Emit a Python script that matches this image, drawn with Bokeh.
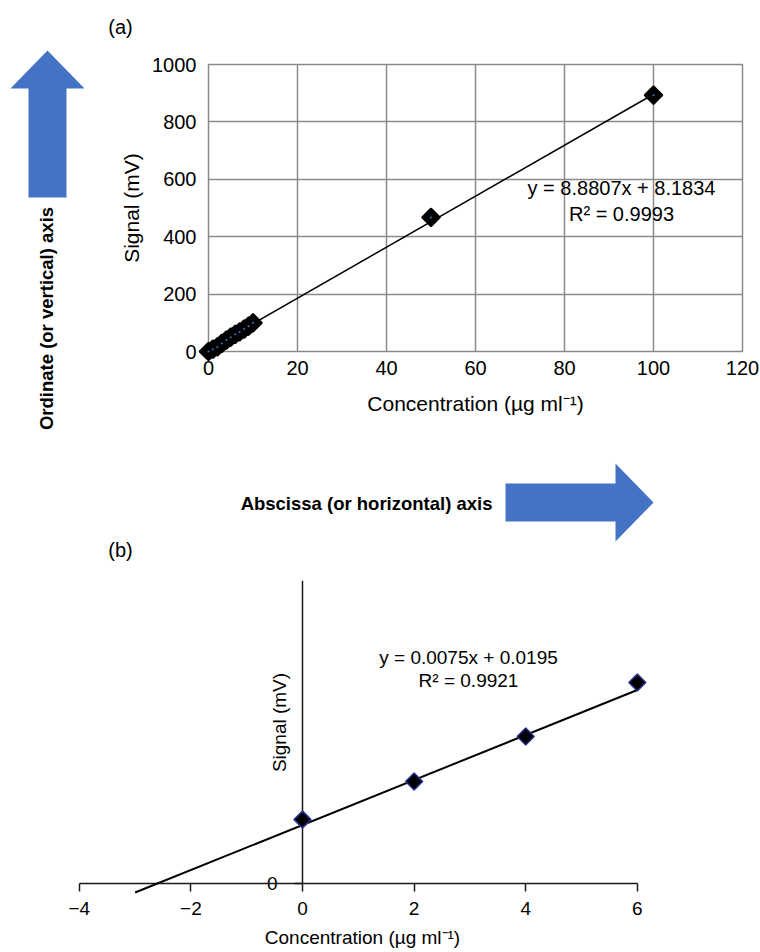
import math
from bokeh.plotting import figure
from bokeh.models import Range1d, FixedTicker, ColumnDataSource
from bokeh.core.properties import value
from bokeh.layouts import column
from bokeh.embed import file_html
from bokeh.resources import INLINE

# ---------------- data ----------------
conc_a = [0, 1, 2, 3, 4, 5, 6, 7, 8, 9, 10, 50, 100]
signal_a = [0, 8, 16, 28, 40, 50, 60, 68, 78, 88, 100, 467, 893]
slope_a = 8.8807
intercept_a = 8.1834
r2_a = 0.9993
xticks_a = [0, 20, 40, 60, 80, 100, 120]
yticks_a = [0, 200, 400, 600, 800, 1000]

conc_b = [0, 2, 4, 6]
signal_b = [0.0213, 0.0340, 0.0490, 0.0670]
slope_b = 0.0075
intercept_b = 0.0195
r2_b = 0.9921
fit_start_b = -3
xticks_b = [-4, -2, 0, 2, 4, 6]
xtick_labels_b = ["−4", "−2", "0", "2", "4", "6"]
yticks_b = [0]

# ---------------- styles / geometry (page pixels) ----------------
FONT = "Liberation Sans"
BLUE = "#4472C4"
GRAY = "#8a8a8a"

v_arrow_px = [47, 84, 66, 66, 28, 28, 10]
v_arrow_py = [50, 88, 88, 197, 197, 88, 88]
h_arrow_px = [505, 615, 615, 653, 615, 615, 505]
h_arrow_py = [483, 483, 463, 502, 541, 521, 521]

# chart (a) frame in page pixels
A_L, A_R, A_T, A_B = 208, 742, 64, 351
A_H = 455


def a_x(px):
    return (px - A_L) / (A_R - A_L) * 120.0


def a_y(py):
    return (A_B - py) / (A_B - A_T) * 1000.0


# chart (b) mapping in page pixels
B_X0, B_PXU, B_Y0, B_PYU = 302, 55.8, 883, 3000.0
B_L, B_R, B_T, B_B = 60, 700, 580, 905
B_TOP, B_H = 455, 495


def b_x(px):
    return (px - B_X0) / B_PXU


def b_y(py):
    return (B_Y0 - py) / B_PYU


def add_text(p, xs, ys, texts, size, align="center", bold=False, angle=0.0):
    p.text(x=xs, y=ys, text=texts, text_font=value(FONT), text_font_size=value(size),
           text_font_style="bold" if bold else "normal", text_color="black",
           text_align=align, text_baseline="middle", angle=angle, level="overlay")


# ---------------- chart (a) ----------------
pa = figure(width=760, height=A_H, x_range=Range1d(0, 120), y_range=Range1d(0, 1000),
            toolbar_location=None, output_backend="svg",
            min_border_left=A_L, min_border_right=760 - A_R,
            min_border_top=A_T, min_border_bottom=A_H - A_B)
pa.outline_line_color = GRAY
pa.outline_line_width = 1.5
pa.xaxis.ticker = FixedTicker(ticks=xticks_a)
pa.yaxis.ticker = FixedTicker(ticks=yticks_a)
pa.xgrid.ticker = FixedTicker(ticks=xticks_a)
pa.ygrid.ticker = FixedTicker(ticks=yticks_a)
pa.grid.grid_line_color = GRAY
pa.grid.grid_line_width = 1.5
pa.axis.axis_line_color = None
pa.axis.major_tick_line_color = None
pa.axis.minor_tick_line_color = None
pa.axis.major_tick_out = 0
pa.axis.major_tick_in = 0
pa.axis.minor_tick_out = 0
pa.axis.minor_tick_in = 0
pa.axis.major_label_text_font = FONT
pa.axis.major_label_text_font_size = "20px"
pa.axis.major_label_text_color = "black"
pa.xaxis.major_label_standoff = 9
pa.yaxis.major_label_standoff = 12
pa.axis.axis_label_text_font = FONT
pa.axis.axis_label_text_font_size = "21px"
pa.axis.axis_label_text_font_style = "normal"
pa.axis.axis_label_text_color = "black"
pa.xaxis.axis_label = "Concentration (µg ml⁻¹)"
pa.yaxis.axis_label = "Signal (mV)"
pa.xaxis.axis_label_standoff = 14
pa.yaxis.axis_label_standoff = 6

fit_x_a = [min(conc_a), max(conc_a)]
fit_y_a = [slope_a * x + intercept_a for x in fit_x_a]
pa.line(fit_x_a, fit_y_a, line_color="black", line_width=1.5)
src_a = ColumnDataSource(dict(x=conc_a, y=signal_a))
pa.scatter("x", "y", source=src_a, marker="square", angle=math.pi / 4, size=12,
           fill_color="black", line_color="black", line_width=2.5, line_join="round",
           level="overlay")
pa.scatter("x", "y", source=src_a, marker="circle", size=2, fill_color="#3d78c8",
           line_color=None, level="overlay")

add_text(pa, [a_x(621), a_x(621)], [a_y(187), a_y(213)],
         [f"y = {slope_a:.4f}x + {intercept_a:.4f}", f"R² = {r2_a:.4f}"], "20px")
add_text(pa, [a_x(120)], [a_y(26)], ["(a)"], "20px")

# vertical arrow + caption
pa.patch([a_x(v) for v in v_arrow_px], [a_y(v) for v in v_arrow_py],
         fill_color=BLUE, line_color=None, level="overlay")
add_text(pa, [a_x(46)], [a_y(318)], ["Ordinate (or vertical) axis"], "18.5px",
         bold=True, angle=math.pi / 2)

# ---------------- chart (b) ----------------
pb = figure(width=760, height=B_H,
            x_range=Range1d(b_x(B_L), b_x(B_R)), y_range=Range1d(b_y(B_B), b_y(B_T)),
            toolbar_location=None, output_backend="svg",
            min_border_left=B_L, min_border_right=760 - B_R,
            min_border_top=B_T - B_TOP, min_border_bottom=B_TOP + B_H - B_B)
pb.outline_line_color = None
pb.grid.visible = False
pb.xaxis.fixed_location = 0
pb.yaxis.fixed_location = 0
pb.xaxis.bounds = (min(xticks_b), max(xticks_b))
pb.yaxis.bounds = (0, b_y(B_T))
pb.xaxis.ticker = FixedTicker(ticks=xticks_b)
pb.yaxis.ticker = FixedTicker(ticks=yticks_b)
# x tick labels are drawn as text marks below (axis labels would be clipped by the frame)
pb.xaxis.major_label_overrides = {t: "" for t in xticks_b}
pb.yaxis.major_label_overrides = {t: str(t) for t in yticks_b}
pb.axis.axis_line_color = "#1a1a1a"
pb.axis.axis_line_width = 1.5
pb.axis.major_tick_line_color = "#1a1a1a"
pb.axis.major_tick_line_width = 1.5
pb.axis.major_tick_out = 8
pb.axis.major_tick_in = 0
pb.axis.minor_tick_line_color = None
pb.axis.major_label_text_font = FONT
pb.axis.major_label_text_font_size = "19px"
pb.axis.major_label_text_color = "black"
pb.xaxis.major_label_standoff = 8
pb.yaxis.major_label_standoff = 17

fit_x_b = [fit_start_b, max(conc_b)]
fit_y_b = [slope_b * x + intercept_b for x in fit_x_b]
pb.line(fit_x_b, fit_y_b, line_color="black", line_width=2, level="overlay")
src_b = ColumnDataSource(dict(x=conc_b, y=signal_b))
pb.scatter("x", "y", source=src_b, marker="square", angle=math.pi / 4, size=12,
           fill_color="black", line_color="#2a2f8f", line_width=1.5, level="overlay")

add_text(pb, xticks_b, [b_y(908)] * len(xticks_b), xtick_labels_b, "19px")
add_text(pb, [b_x(468), b_x(468)], [b_y(657), b_y(680)],
         [f"y = {slope_b:.4f}x + {intercept_b:.4f}", f"R² = {r2_b:.4f}"], "19px")
add_text(pb, [b_x(279)], [b_y(722)], ["Signal (mV)"], "19px", angle=math.pi / 2)
add_text(pb, [b_x(362)], [b_y(937)], ["Concentration (µg ml⁻¹)"], "19px")
add_text(pb, [b_x(120)], [b_y(549)], ["(b)"], "20px")

# horizontal arrow + caption
pb.patch([b_x(v) for v in h_arrow_px], [b_y(v) for v in h_arrow_py],
         fill_color=BLUE, line_color=None, level="overlay")
add_text(pb, [b_x(492)], [b_y(503)], ["Abscissa (or horizontal) axis"], "18.5px",
         align="right", bold=True)

layout = column(column(pa), column(pb))
open("out.html", "w").write(file_html(layout, INLINE))
